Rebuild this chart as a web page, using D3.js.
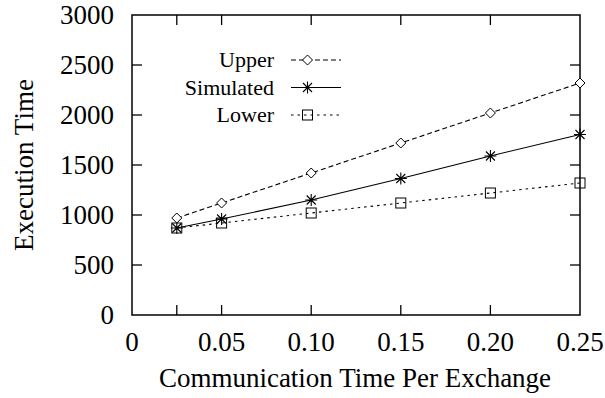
<!DOCTYPE html>
<html><head><meta charset="utf-8">
<script src="https://cdn.jsdelivr.net/npm/d3@7"></script>
<style>
body{margin:0;background:#fff;}
text{font-family:"Liberation Serif","Times New Roman",serif;fill:#000;}
</style></head><body>
<svg id="c" width="605" height="398"></svg>
<script>
const xValues = [0.025, 0.05, 0.10, 0.15, 0.20, 0.25];
const upper = [970, 1120, 1420, 1720, 2020, 2320];
const simulated = [870, 960, 1150, 1365, 1590, 1805];
const lower = [870, 920, 1020, 1120, 1220, 1320];
const seriesNames = ["Upper", "Simulated", "Lower"];
const xTickValues = [0, 0.025, 0.05, 0.10, 0.15, 0.20, 0.25];
const xTickLabels = ["0", "", "0.05", "0.10", "0.15", "0.20", "0.25"];
const yTickValues = [0, 500, 1000, 1500, 2000, 2500, 3000];
const xTitle = "Communication Time Per Exchange";
const yTitle = "Execution Time";

const svg = d3.select("#c");
const L = 132, R = 580, T = 15, B = 315;
const x = d3.scaleLinear().domain([0, 0.25]).range([L, R]);
const y = d3.scaleLinear().domain([0, 3000]).range([B, T]);

const g = svg.append("g");
const tl = 10;
const xt = xTickValues.filter(v => v > 0 && v < 0.25);
xt.forEach(v => {
  g.append("line").attr("x1", x(v)).attr("x2", x(v)).attr("y1", B).attr("y2", B - tl).attr("stroke", "#000").attr("stroke-width", 1.3);
  g.append("line").attr("x1", x(v)).attr("x2", x(v)).attr("y1", T).attr("y2", T + tl).attr("stroke", "#000").attr("stroke-width", 1.3);
});
yTickValues.filter(v => v > 0 && v < 3000).forEach(v => {
  g.append("line").attr("x1", L).attr("x2", L + tl).attr("y1", y(v)).attr("y2", y(v)).attr("stroke", "#000").attr("stroke-width", 1.3);
  g.append("line").attr("x1", R).attr("x2", R - tl).attr("y1", y(v)).attr("y2", y(v)).attr("stroke", "#000").attr("stroke-width", 1.3);
});
g.append("rect").attr("x", L).attr("y", T).attr("width", R - L).attr("height", B - T)
  .attr("fill", "none").attr("stroke", "#000").attr("stroke-width", 1.5);

xTickValues.forEach((v, i) => {
  if (!xTickLabels[i]) return;
  svg.append("text").attr("x", x(v)).attr("y", 351).attr("text-anchor", "middle")
    .attr("font-size", 27).text(xTickLabels[i]);
});
yTickValues.forEach(v => {
  svg.append("text").attr("x", 114).attr("y", y(v)).attr("dy", "0.33em").attr("text-anchor", "end")
    .attr("font-size", 27).text(v);
});
svg.append("text").attr("x", 355).attr("y", 387).attr("text-anchor", "middle")
  .attr("font-size", 27).text(xTitle);
svg.append("text").attr("transform", "translate(33,165) rotate(-90)").attr("text-anchor", "middle")
  .attr("font-size", 27).text(yTitle);

function marker(sel, type, cx, cy) {
  const s = 5;
  if (type === 0) {
    sel.append("path").attr("d", `M${cx},${cy - s}L${cx + s},${cy}L${cx},${cy + s}L${cx - s},${cy}Z`)
      .attr("fill", "#fff").attr("stroke", "#000").attr("stroke-width", 1);
  } else if (type === 1) {
    const d = 6, e = 4.5;
    sel.append("path").attr("d", `M${cx - d},${cy}L${cx + d},${cy}M${cx},${cy - d}L${cx},${cy + d}M${cx - e},${cy - e}L${cx + e},${cy + e}M${cx - e},${cy + e}L${cx + e},${cy - e}`)
      .attr("stroke", "#000").attr("stroke-width", 1.1).attr("fill", "none");
  } else {
    sel.append("rect").attr("x", cx - s).attr("y", cy - s).attr("width", 2 * s).attr("height", 2 * s)
      .attr("fill", "none").attr("stroke", "#000").attr("stroke-width", 1);
  }
}

const data = [upper, simulated, lower];
const dashes = ["5,3", null, "2.5,4"];
const line = d3.line().x(d => x(d[0])).y(d => y(d[1]));
[2, 1, 0].forEach(k => {
  const pts = xValues.map((v, i) => [v, data[k][i]]);
  const p = svg.append("path").attr("d", line(pts)).attr("fill", "none")
    .attr("stroke", "#000").attr("stroke-width", 1.1);
  if (dashes[k]) p.attr("stroke-dasharray", dashes[k]);
});
[2, 1, 0].forEach(k => {
  xValues.forEach((v, i) => marker(svg, k, x(v), y(data[k][i])));
});

const ly = [60, 87.5, 115];
seriesNames.forEach((n, k) => {
  svg.append("text").attr("x", 274).attr("y", ly[k]).attr("dy", "0.33em").attr("text-anchor", "end")
    .attr("font-size", 22).text(n);
  const p = svg.append("line").attr("x1", 291).attr("x2", 341).attr("y1", ly[k]).attr("y2", ly[k])
    .attr("stroke", "#000").attr("stroke-width", 1.1);
  if (dashes[k]) p.attr("stroke-dasharray", dashes[k]);
  marker(svg, k, 307.5, ly[k]);
});
</script>
</body></html>
